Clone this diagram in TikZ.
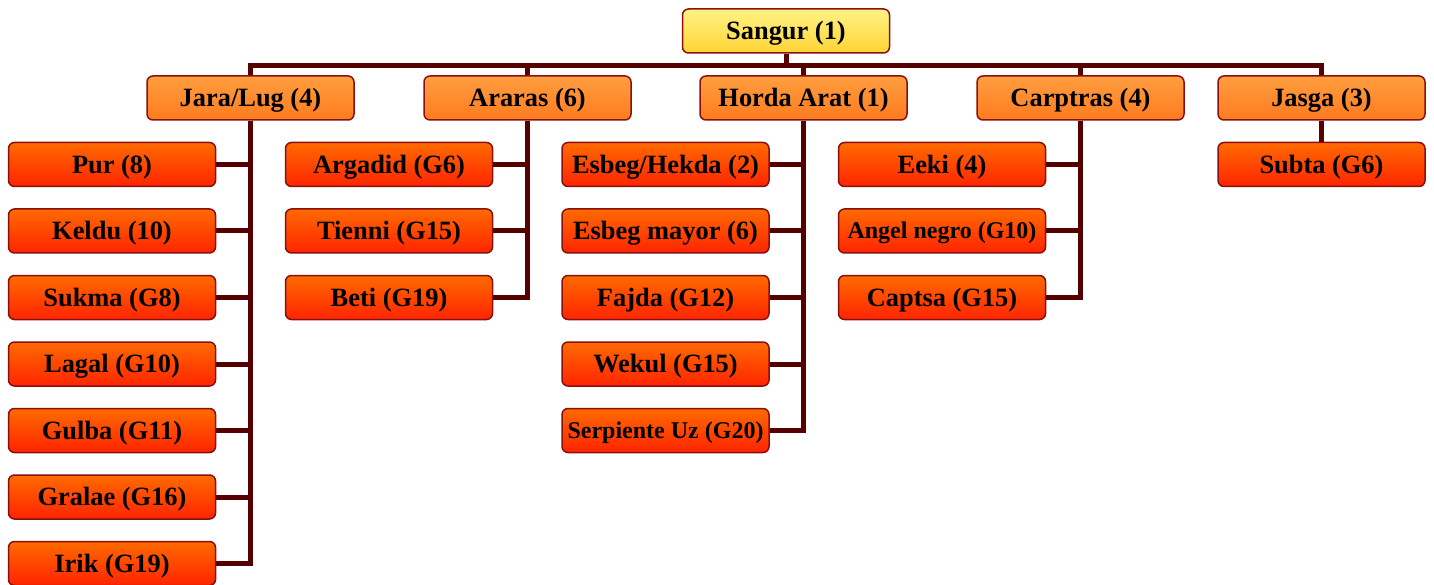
\documentclass[tikz,border=0pt]{standalone}
\usepackage{fontspec}
\setmainfont{Liberation Serif}
\usepackage{xcolor}
\definecolor{lineclr}{HTML}{560000}
\definecolor{edgeclr}{HTML}{8A1010}
\definecolor{rootTop}{HTML}{FFF385}
\definecolor{rootBot}{HTML}{FFD335}
\definecolor{clanTop}{HTML}{FF9E40}
\definecolor{clanBot}{HTML}{FF7B1F}
\definecolor{subTop}{HTML}{FF6A00}
\definecolor{subBot}{HTML}{FF2400}
\tikzset{
  box/.style={draw=edgeclr, line width=1.5pt, rounded corners=6pt,
    minimum width=207pt, minimum height=44pt, inner sep=0pt,
    text height=17.5pt, text depth=0pt,
    font=\bfseries\fontsize{26.4}{30}\selectfont},
  rootbox/.style={box, top color=rootTop, bottom color=rootBot},
  clanbox/.style={box, top color=clanTop, bottom color=clanBot},
  subbox/.style={box, top color=subTop, bottom color=subBot},
  small/.style={font=\bfseries\fontsize{24}{28}\selectfont, text height=16pt},
  conn/.style={draw=lineclr, line width=5pt, line join=miter}
}
\begin{document}
\begin{tikzpicture}[x=1pt,y=-1pt]
        \useasboundingbox (0,0) rectangle (1434,585);
        % top
        \node [rootbox] (sangur) at (786,31) {Sangur (1)};
        % clans
        \node [clanbox] (jara) at (250.5,98) {Jara/Lug (4)};
        \node [clanbox] (araras) at (527.5,98) {Araras (6)};
        \node [clanbox] (horda) at (803.5,98) {Horda Arat (1)};
        \node [clanbox] (carptras) at (1080.5,98) {Carptras (4)};
        \node [clanbox] (jasga) at (1321.5,98) {Jasga (3)};
        % Jara/Lug
        \node [subbox] (pur) at (112,164.5) {Pur (8)};
        \node [subbox] (keldu) at (112,231) {Keldu (10)};
        \node [subbox] (sukma) at (112,297.5) {Sukma (G8)};
        \node [subbox] (lagal) at (112,364) {Lagal (G10)};
        \node [subbox] (gulba) at (112,430.5) {Gulba (G11)};
        \node [subbox] (gralae) at (112,497) {Gralae (G16)};
        \node [subbox] (irik) at (112,563.5) {Irik (G19)};
        % Araras
        \node [subbox] (argadid) at (389,164.5) {Argadid (G6)};
        \node [subbox] (tienni) at (389,231) {Tienni (G15)};
        \node [subbox] (beti) at (389,297.5) {Beti (G19)};
        % Horda Arat
        \node [subbox] (esbeg) at (665.5,164.5) {Esbeg/Hekda (2)};
        \node [subbox] (mayor) at (665.5,231) {Esbeg mayor (6)};
        \node [subbox] (fajda) at (665.5,297.5) {Fajda (G12)};
        \node [subbox] (wekul) at (665.5,364) {Wekul (G15)};
        \node [subbox,small] (serpiente) at (665.5,430.5) {Serpiente Uz (G20)};
        % Carptras
        \node [subbox] (eeki) at (942,164.5) {Eeki (4)};
        \node [subbox,small] (angel) at (942,231) {Angel negro (G10)};
        \node [subbox] (captsa) at (942,297.5) {Captsa (G15)};
        % Jasga
        \node [subbox] (subta) at (1321.5,164.5) {Subta (G6)};
        % connectors
        \draw [conn] (sangur.south) -- ++(0,12) coordinate (bus);
        \foreach \c in {jara,araras,horda,carptras,jasga}
            \draw [conn] (bus) -| (\c.north);
        \foreach \c in {pur,keldu,sukma,lagal,gulba,gralae,irik}
            \draw [conn] (jara.south) |- (\c.east);
        \foreach \c in {argadid,tienni,beti}
            \draw [conn] (araras.south) |- (\c.east);
        \foreach \c in {esbeg,mayor,fajda,wekul,serpiente}
            \draw [conn] (horda.south) |- (\c.east);
        \foreach \c in {eeki,angel,captsa}
            \draw [conn] (carptras.south) |- (\c.east);
        \draw [conn] (jasga.south) -- (subta.north);
\end{tikzpicture}
\end{document}
